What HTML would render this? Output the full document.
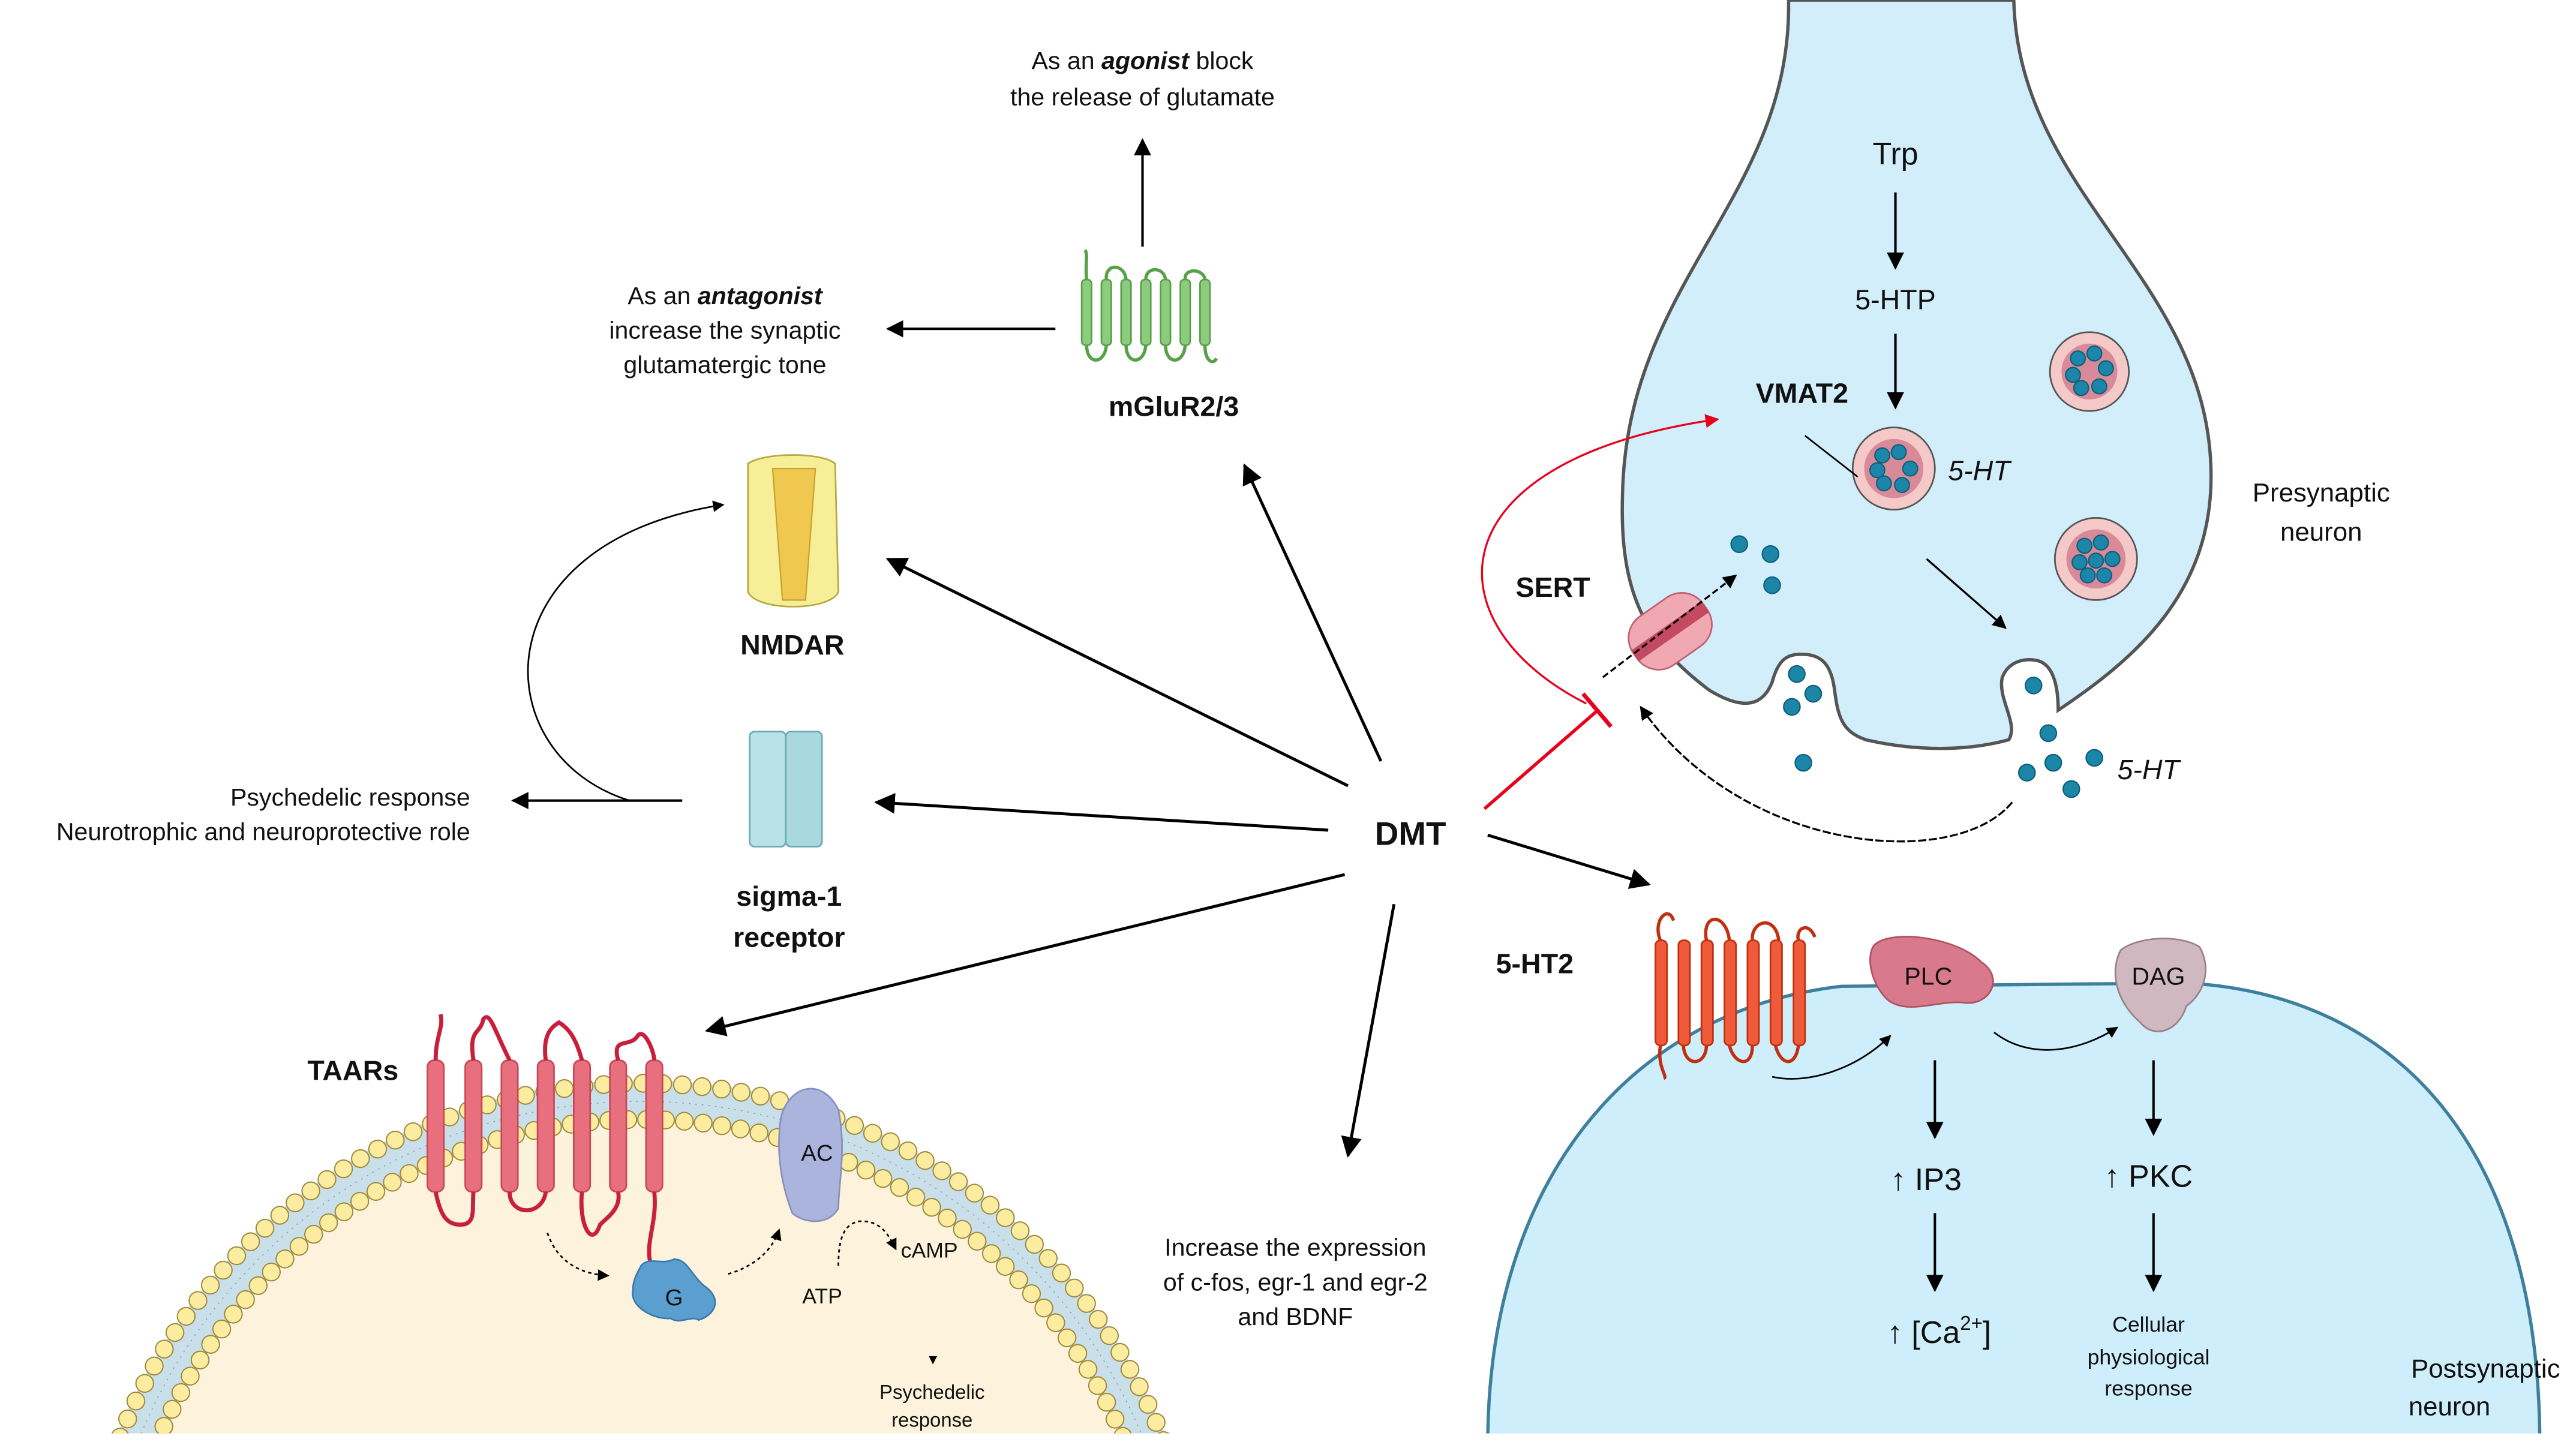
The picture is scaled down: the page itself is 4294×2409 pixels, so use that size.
<!DOCTYPE html>
<html><head><meta charset="utf-8"><style>
html,body{margin:0;padding:0;background:#fff;width:4294px;height:2409px;overflow:hidden}
svg{display:block}
text{font-family:"Liberation Sans",sans-serif;fill:#111}
</style></head><body>
<svg width="4294" height="2409" viewBox="0 0 1567 879" xmlns="http://www.w3.org/2000/svg">
<defs>
<marker id="ahs" viewBox="0 0 10 10" refX="9" refY="5" markerWidth="7" markerHeight="7" orient="auto"><path d="M0,0 L10,5 L0,10 z" fill="#000"/></marker>
<marker id="ahr" viewBox="0 0 10 10" refX="9" refY="5" markerWidth="7" markerHeight="7" orient="auto"><path d="M0,0 L10,5 L0,10 z" fill="#e8001c"/></marker>
<clipPath id="cl"><rect x="0" y="0" width="1567" height="872"/></clipPath>
</defs>

<!-- Postsynaptic neuron -->
<path d="M905,879 C905,720 990,615 1120,600 L1330,598 C1460,605 1545,700 1545,879 Z" fill="#cdeefa" stroke="#3f7f9e" stroke-width="2" clip-path="url(#cl)"/>

<!-- Presynaptic neuron -->
<path d="M1088,0 C1090,120 990,170 987,300 C985,360 1000,390 1040,420 C1060,432 1072,430 1078,415 C1082,400 1088,398 1096,398 C1108,398 1114,404 1116,420 C1118,435 1120,445 1135,450 C1170,458 1200,456 1222,450 C1228,440 1215,425 1218,412 C1222,402 1232,400 1240,402 C1250,405 1252,420 1252,432 C1300,400 1345,360 1345,290 C1345,170 1228,120 1225,0 Z" fill="#d2eefa" stroke="#555" stroke-width="2"/>

<!-- Vesicles -->
<g stroke="#555" stroke-width="1">
<circle cx="1271" cy="226" r="24" fill="#f6c9c9"/><circle cx="1271" cy="226" r="17" fill="#d98a98" stroke="none"/>
<circle cx="1152" cy="285" r="25" fill="#f6c9c9"/><circle cx="1152" cy="285" r="18" fill="#d98a98" stroke="none"/>
<circle cx="1275" cy="340" r="25" fill="#f6c9c9"/><circle cx="1275" cy="340" r="18" fill="#d98a98" stroke="none"/>
</g>
<g fill="#1b86a8" stroke="#0e5f7a" stroke-width="0.8">
<circle cx="1264" cy="218" r="4.5"/><circle cx="1274" cy="215" r="4.5"/><circle cx="1281" cy="224" r="4.5"/><circle cx="1277" cy="235" r="4.5"/><circle cx="1266" cy="236" r="4.5"/><circle cx="1261" cy="228" r="4.5"/>
<circle cx="1145" cy="277" r="4.5"/><circle cx="1155" cy="275" r="4.5"/><circle cx="1162" cy="285" r="4.5"/><circle cx="1157" cy="295" r="4.5"/><circle cx="1146" cy="294" r="4.5"/><circle cx="1142" cy="286" r="4.5"/>
<circle cx="1268" cy="332" r="4.5"/><circle cx="1278" cy="330" r="4.5"/><circle cx="1285" cy="340" r="4.5"/><circle cx="1280" cy="350" r="4.5"/><circle cx="1270" cy="350" r="4.5"/><circle cx="1265" cy="342" r="4.5"/><circle cx="1275" cy="341" r="4.5"/>
<circle cx="1058" cy="331" r="5"/><circle cx="1077" cy="337" r="5"/><circle cx="1078" cy="356" r="5"/>
<circle cx="1093" cy="410" r="5"/><circle cx="1103" cy="422" r="5"/><circle cx="1090" cy="430" r="5"/><circle cx="1097" cy="464" r="5"/>
<circle cx="1237" cy="417" r="5"/><circle cx="1246" cy="446" r="5"/><circle cx="1249" cy="464" r="5"/><circle cx="1233" cy="470" r="5"/><circle cx="1274" cy="461" r="5"/><circle cx="1260" cy="480" r="5"/>
</g>
<line x1="1098" y1="265" x2="1130" y2="290" stroke="#000" stroke-width="1"/>

<!-- SERT -->
<g transform="rotate(-35 1016 384)">
<rect x="990" y="366" width="52" height="36" rx="16" fill="#f0a8b2" stroke="#c06070" stroke-width="1"/>
<rect x="990" y="380" width="52" height="8" fill="#c44a62"/>
</g>
<line x1="975" y1="412" x2="1056" y2="350" stroke="#000" stroke-width="1.2" stroke-dasharray="4 2" marker-end="url(#ahs)"/>

<!-- presyn arrows -->
<line x1="1153" y1="117" x2="1153" y2="163" stroke="#000" stroke-width="1.5" marker-end="url(#ahs)"/>
<line x1="1153" y1="203" x2="1153" y2="248" stroke="#000" stroke-width="1.5" marker-end="url(#ahs)"/>
<line x1="1172" y1="340" x2="1220" y2="382" stroke="#000" stroke-width="1.2" marker-end="url(#ahs)"/>
<path d="M1224,488 C1190,530 1060,520 998,430" fill="none" stroke="#000" stroke-width="1.2" stroke-dasharray="5 1.5" marker-end="url(#ahs)"/>

<!-- red -->
<path d="M965,428 C870,380 870,280 1045,255" fill="none" stroke="#e8001c" stroke-width="1.2" marker-end="url(#ahr)"/>
<line x1="903" y1="492" x2="972" y2="432" stroke="#e8001c" stroke-width="2"/>
<line x1="963" y1="422" x2="980" y2="442" stroke="#e8001c" stroke-width="2.5"/>

<!-- presyn labels -->
<text x="1153" y="100" font-size="19" text-anchor="middle">Trp</text>
<text x="1153" y="188" font-size="17" text-anchor="middle">5-HTP</text>
<text x="1068" y="245" font-size="17" font-weight="bold">VMAT2</text>
<text x="1185" y="292" font-size="17" font-style="italic">5-HT</text>
<text x="1288" y="474" font-size="17" font-style="italic">5-HT</text>
<text x="922" y="363" font-size="17" font-weight="bold">SERT</text>
<text x="1412" y="305" font-size="16" text-anchor="middle">Presynaptic</text>
<text x="1412" y="329" font-size="16" text-anchor="middle">neuron</text>
<text x="1512" y="838" font-size="16" text-anchor="middle">Postsynaptic</text>
<text x="1490" y="861" font-size="16" text-anchor="middle">neuron</text>

<!-- 5-HT2 receptor -->
<g fill="#ef5a3a" stroke="#c03010" stroke-width="1">
<rect x="1007" y="572" width="7" height="64" rx="3"/><rect x="1021" y="572" width="7" height="64" rx="3"/><rect x="1035" y="572" width="7" height="64" rx="3"/><rect x="1049" y="572" width="7" height="64" rx="3"/><rect x="1063" y="572" width="7" height="64" rx="3"/><rect x="1077" y="572" width="7" height="64" rx="3"/><rect x="1091" y="572" width="7" height="64" rx="3"/>
</g>
<path d="M1010,572 C1005,560 1015,550 1018,560 M1038,572 C1035,555 1050,555 1052,572 M1066,572 C1065,560 1080,556 1082,572 M1094,572 C1092,565 1100,560 1104,570 M1010,636 C1008,650 1015,655 1012,656 M1024,636 C1025,650 1038,648 1038,636 M1052,636 C1055,648 1066,650 1066,636 M1080,636 C1083,648 1092,650 1094,636" fill="none" stroke="#c03010" stroke-width="2"/>
<text x="910" y="592" font-size="17" font-weight="bold">5-HT2</text>
<path d="M1140,575 C1150,565 1190,570 1205,585 C1220,595 1210,612 1195,610 C1180,608 1160,618 1148,608 C1138,598 1135,582 1140,575 Z" fill="#d97a8c" stroke="#b05060" stroke-width="1"/>
<text x="1173" y="599" font-size="15" text-anchor="middle">PLC</text>
<path d="M1290,578 C1300,570 1325,568 1338,576 C1346,590 1340,605 1330,612 C1325,628 1310,632 1302,622 C1290,612 1282,594 1290,578 Z" fill="#cfb8c0" stroke="#9a8088" stroke-width="1"/>
<text x="1313" y="599" font-size="15" text-anchor="middle">DAG</text>
<path d="M1078,655 C1100,660 1130,650 1150,630" fill="none" stroke="#000" stroke-width="1" marker-end="url(#ahs)"/>
<path d="M1213,628 C1235,645 1265,640 1288,625" fill="none" stroke="#000" stroke-width="1" marker-end="url(#ahs)"/>
<line x1="1177" y1="645" x2="1177" y2="692" stroke="#000" stroke-width="1.5" marker-end="url(#ahs)"/>
<line x1="1177" y1="738" x2="1177" y2="785" stroke="#000" stroke-width="1.5" marker-end="url(#ahs)"/>
<line x1="1310" y1="645" x2="1310" y2="690" stroke="#000" stroke-width="1.5" marker-end="url(#ahs)"/>
<line x1="1310" y1="738" x2="1310" y2="785" stroke="#000" stroke-width="1.5" marker-end="url(#ahs)"/>
<text x="1150" y="724" font-size="19">↑ IP3</text>
<text x="1148" y="817" font-size="19">↑ [Ca<tspan font-size="12" dy="-8">2+</tspan><tspan dy="8">]</tspan></text>
<text x="1280" y="722" font-size="19">↑ PKC</text>
<text x="1307" y="810" font-size="13" text-anchor="middle">Cellular</text>
<text x="1307" y="830" font-size="13" text-anchor="middle">physiological</text>
<text x="1307" y="849" font-size="13" text-anchor="middle">response</text>

<!-- Cell bottom left -->
<g clip-path="url(#cl)">
<circle cx="390" cy="1000" r="316" fill="#fdf3dc"/>
<circle cx="390" cy="1000" r="330" fill="none" stroke="#c9dfea" stroke-width="26"/>
<circle cx="390" cy="1000" r="330" fill="none" stroke="#8aa" stroke-width="0.6" stroke-dasharray="1 3"/>
<circle cx="390" cy="1000" r="341" fill="none" stroke="#a08a40" stroke-width="11.5" stroke-linecap="round" stroke-dasharray="0 12"/>
<circle cx="390" cy="1000" r="341" fill="none" stroke="#fbeca0" stroke-width="10" stroke-linecap="round" stroke-dasharray="0 12"/>
<circle cx="390" cy="1000" r="319" fill="none" stroke="#a08a40" stroke-width="11.5" stroke-linecap="round" stroke-dasharray="0 11.5"/>
<circle cx="390" cy="1000" r="319" fill="none" stroke="#fbeca0" stroke-width="10" stroke-linecap="round" stroke-dasharray="0 11.5"/>
</g>
<!-- TAAR -->
<g fill="#e8707e" stroke="#c84858" stroke-width="1">
<rect x="260" y="645" width="10" height="80" rx="4"/><rect x="283" y="645" width="10" height="80" rx="4"/><rect x="305" y="645" width="10" height="80" rx="4"/><rect x="327" y="645" width="10" height="80" rx="4"/><rect x="349" y="645" width="10" height="80" rx="4"/><rect x="371" y="645" width="10" height="80" rx="4"/><rect x="393" y="645" width="10" height="80" rx="4"/>
</g>
<path d="M265,645 C265,630 270,625 268,617 M288,645 C285,625 292,630 294,620 C298,615 300,625 310,645 M332,645 C330,630 335,625 340,622 C345,625 350,630 354,645 M376,645 C372,630 383,638 388,630 C392,625 398,640 398,645 M265,725 C268,740 272,745 280,745 C290,745 287,735 288,725 M310,725 C310,740 330,740 332,725 M354,725 C352,745 360,760 365,745 C370,740 378,735 376,725 M398,725 C400,745 392,755 396,770" fill="none" stroke="#c8203c" stroke-width="2.5"/>
<text x="187" y="657" font-size="17" font-weight="bold">TAARs</text>
<path d="M475,680 C480,660 500,655 510,675 C515,700 510,720 510,735 C505,745 490,745 482,738 C475,720 472,700 475,680 Z" fill="#aab4dc" stroke="#8890c0" stroke-width="1"/>
<text x="497" y="706" font-size="14" text-anchor="middle">AC</text>
<path d="M390,770 C395,764 402,770 410,766 C418,766 420,775 428,782 C440,790 435,800 425,803 C420,800 414,806 408,802 C398,803 383,795 385,785 C385,778 388,774 390,770 Z" fill="#5a9fd0" stroke="#3a7aaa" stroke-width="1"/>
<text x="410" y="794" font-size="14" text-anchor="middle">G</text>
<path d="M333,750 C338,765 350,775 370,776" fill="none" stroke="#000" stroke-width="1" stroke-dasharray="2 2" marker-end="url(#ahs)"/>
<path d="M443,775 C460,770 470,760 474,748" fill="none" stroke="#000" stroke-width="1" stroke-dasharray="2 2" marker-end="url(#ahs)"/>
<path d="M510,770 C510,750 515,745 522,743 C535,742 540,750 545,760" fill="none" stroke="#000" stroke-width="1" stroke-dasharray="2 2" marker-end="url(#ahs)"/>
<text x="548" y="765" font-size="13">cAMP</text>
<text x="488" y="793" font-size="13">ATP</text>
<path d="M565,825 L570,825 L567.5,830 Z" fill="#000"/>
<text x="567" y="851" font-size="12" text-anchor="middle">Psychedelic</text>
<text x="567" y="868" font-size="12" text-anchor="middle">response</text>

<!-- mGluR2/3 -->
<g fill="#8ccc7c" stroke="#5aa04a" stroke-width="1">
<rect x="658" y="170" width="6" height="40" rx="2.5"/><rect x="670" y="170" width="6" height="40" rx="2.5"/><rect x="682" y="170" width="6" height="40" rx="2.5"/><rect x="694" y="170" width="6" height="40" rx="2.5"/><rect x="706" y="170" width="6" height="40" rx="2.5"/><rect x="718" y="170" width="6" height="40" rx="2.5"/><rect x="730" y="170" width="6" height="40" rx="2.5"/>
</g>
<path d="M661,170 C660,160 662,155 660,152 M673,170 C672,160 684,160 685,170 M697,170 C697,162 708,162 709,170 M721,170 C720,163 732,163 733,170 M661,210 C661,222 672,222 673,210 M685,210 C685,222 696,222 697,210 M709,210 C709,222 720,222 721,210 M733,210 C733,220 738,222 740,218" fill="none" stroke="#5aa04a" stroke-width="2"/>
<text x="714" y="253" font-size="17" font-weight="bold" text-anchor="middle">mGluR2/3</text>
<line x1="695" y1="150" x2="695" y2="85" stroke="#000" stroke-width="1.5" marker-end="url(#ahs)"/>
<line x1="642" y1="200" x2="540" y2="200" stroke="#000" stroke-width="1.5" marker-end="url(#ahs)"/>
<text x="695" y="42" font-size="15" text-anchor="middle">As an <tspan font-weight="bold" font-style="italic">agonist</tspan> block</text>
<text x="695" y="64" font-size="15" text-anchor="middle">the release of glutamate</text>
<text x="441" y="185" font-size="15" text-anchor="middle">As an <tspan font-weight="bold" font-style="italic">antagonist</tspan></text>
<text x="441" y="206" font-size="15" text-anchor="middle">increase the synaptic</text>
<text x="441" y="227" font-size="15" text-anchor="middle">glutamatergic tone</text>

<!-- NMDAR -->
<path d="M455,282 C465,275 500,275 508,282 L510,360 C505,372 460,372 455,360 Z" fill="#f7ef98" stroke="#b8a840" stroke-width="1"/>
<path d="M470,285 L496,285 L490,365 L476,365 Z" fill="#f0c850" stroke="#c8a030" stroke-width="0.8"/>
<text x="482" y="398" font-size="17" font-weight="bold" text-anchor="middle">NMDAR</text>

<!-- sigma-1 -->
<rect x="456" y="445" width="22" height="70" rx="3" fill="#b8e2e8" stroke="#6aaab4" stroke-width="1"/>
<rect x="478" y="445" width="22" height="70" rx="3" fill="#a8d8e0" stroke="#6aaab4" stroke-width="1"/>
<text x="480" y="551" font-size="17" font-weight="bold" text-anchor="middle">sigma-1</text>
<text x="480" y="576" font-size="17" font-weight="bold" text-anchor="middle">receptor</text>
<line x1="415" y1="487" x2="312" y2="487" stroke="#000" stroke-width="1.5" marker-end="url(#ahs)"/>
<path d="M383,487 C295,460 290,330 440,307" fill="none" stroke="#000" stroke-width="1" marker-end="url(#ahs)"/>
<text x="286" y="490" font-size="15" text-anchor="end">Psychedelic response</text>
<text x="286" y="511" font-size="15" text-anchor="end">Neurotrophic and neuroprotective role</text>

<!-- DMT -->
<text x="858" y="514" font-size="20" font-weight="bold" text-anchor="middle">DMT</text>
<g stroke="#000" stroke-width="1.8" marker-end="url(#ahs)">
<line x1="840" y1="463" x2="757" y2="283"/>
<line x1="820" y1="478" x2="540" y2="340"/>
<line x1="808" y1="505" x2="533" y2="488"/>
<line x1="818" y1="532" x2="430" y2="627"/>
<line x1="848" y1="550" x2="820" y2="703"/>
<line x1="905" y1="508" x2="1003" y2="538"/>
</g>
<text x="788" y="764" font-size="15" text-anchor="middle">Increase the expression</text>
<text x="788" y="785" font-size="15" text-anchor="middle">of  c-fos, egr-1 and egr-2</text>
<text x="788" y="806" font-size="15" text-anchor="middle">and BDNF</text>
</svg>
</body></html>
